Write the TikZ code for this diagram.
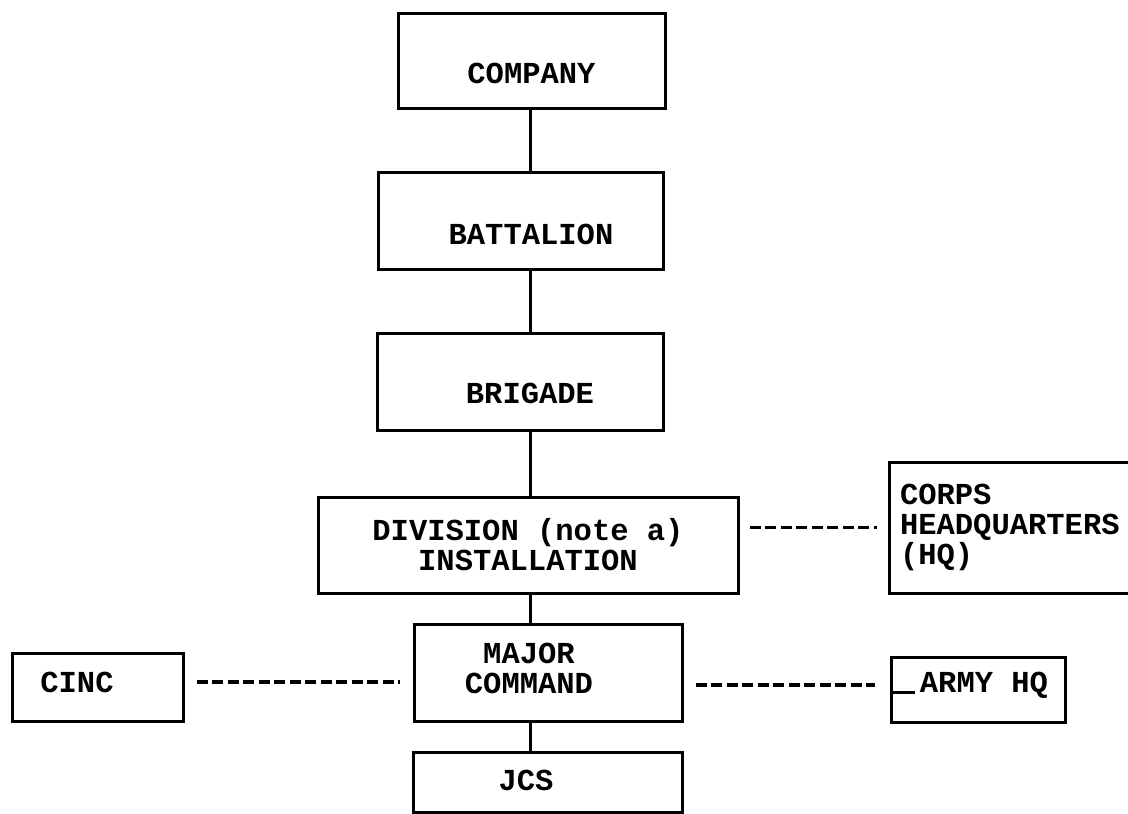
\documentclass[tikz,border=0pt]{standalone}
\usepackage{fontspec}
\setmonofont{Liberation Mono}

\newcommand{\chartfont}{\fontsize{30.5}{30}\selectfont\ttfamily\bfseries}

\begin{document}
\begin{tikzpicture}[
        x=1pt,
        y=-1pt,
        unit/.style={
            rectangle,
            draw,
            line width=3pt,
            inner sep=0pt,
            font=\chartfont,
            align=center
        },
        tag/.style={
            font=\chartfont,
            align=center,
            inner sep=0pt
        },
        line/.style={
            draw,
            line width=3pt
        },
        link/.style={
            draw,
            line width=3.2pt,
            dash pattern=on 11pt off 4.5pt
        },
      ]
        \useasboundingbox (0,0) rectangle (1128,814);
        \coordinate (axis) at (530,0);
        \node [unit,minimum width=267pt,minimum height=95pt,
               label={[tag,name=company-text,yshift=-12.5pt]center:COMPANY}] (company) at (531.5,60.5) {};
        \node [unit,minimum width=285pt,minimum height=97pt,
               label={[tag,name=battalion-text,xshift=10.5pt,yshift=-13.5pt]center:BATTALION}] (battalion) at (520.5,220.5) {};
        \node [unit,minimum width=286pt,minimum height=97pt,
               label={[tag,name=brigade-text,xshift=10pt,yshift=-11.5pt]center:BRIGADE}] (brigade) at (520,381.5) {};
        \node [unit,minimum width=420pt,minimum height=96pt] (division) at (528,545) {DIVISION (note a)\\INSTALLATION};
        \node [unit,text width=239pt,inner xsep=11pt,minimum height=131pt,align=left] (corps) at (1019.5,527.5) {CORPS\\HEADQUARTERS\\(HQ)};
        \node [unit,minimum width=268pt,minimum height=97pt,
               label={[tag,name=major-text,xshift=-19pt,yshift=4.5pt]center:MAJOR\\COMMAND}] (major) at (548,672.5) {};
        \node [unit,minimum width=269pt,minimum height=60pt,
               label={[tag,name=jcs-text,xshift=-21.5pt,yshift=2pt]center:JCS}] (jcs) at (547.5,782) {};
        \node [unit,minimum width=171pt,minimum height=68pt,
               label={[tag,name=cinc-text,xshift=-20.5pt,yshift=5pt]center:CINC}] (cinc) at (97.5,687) {};
        \node [unit,minimum width=174pt,minimum height=65pt,
               label={[tag,name=armyhq-text,xshift=6pt,yshift=4.5pt]center:ARMY HQ}] (armyhq) at (978,689.5) {};
        % chain of command
        \foreach \a/\b in {company/battalion,battalion/brigade,brigade/division,division/major,major/jcs}
            \path [line] (axis |- \a.south) -- (axis |- \b.north);
        % side links
        \path [link,shorten <=10pt,shorten >=11pt] (division.east |- corps.west) -- (corps.west);
        \path [link,shorten <=12pt,shorten >=13pt] (cinc.east |- cinc-text) -- (major.west |- cinc-text);
        \path [link,shorten <=12pt,shorten >=15pt] (major.east |- armyhq-text) -- (armyhq.west |- armyhq-text);
        \path [line,line width=2.5pt] ([yshift=-3pt]armyhq.west) -- ++(25,0);
      \end{tikzpicture}
\end{document}
